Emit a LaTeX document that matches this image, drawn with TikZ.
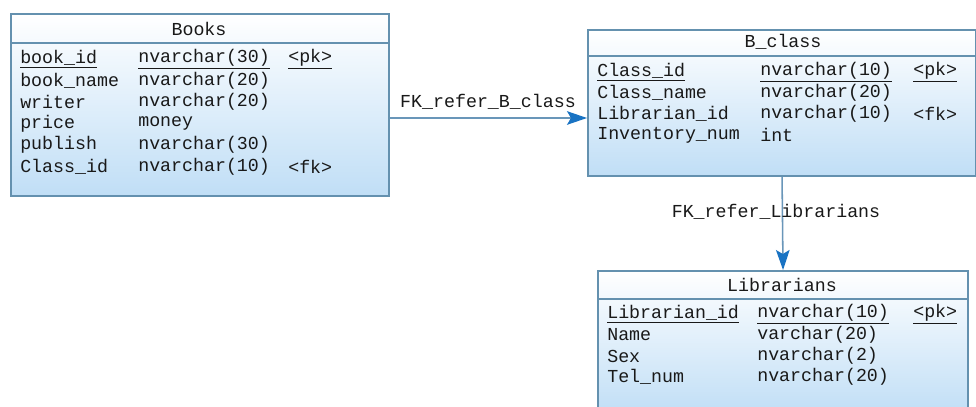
\documentclass[tikz,border=0pt]{standalone}
\usepackage{fontspec}
\setmonofont{Liberation Mono}
\usetikzlibrary{arrows.meta, positioning}

\definecolor{tblborder}{RGB}{100,145,175}
\definecolor{tblfill}{RGB}{192,222,246}
\definecolor{fkline}{RGB}{105,150,185}
\definecolor{fktip}{RGB}{25,115,195}

\tikzset{
    tablebox/.style={draw=tblborder, line width=1.4pt, top color=white, bottom color=tblfill,
        anchor=north west, inner sep=0pt},
    field/.style={anchor=west, inner sep=0pt, text=black!90,
        font=\ttfamily\fontsize{13}{15}\selectfont},
    title/.style={inner sep=0pt, text=black!90, font=\ttfamily\fontsize{13}{15}\selectfont},
    fk/.style={draw=fkline, line width=1.1pt,
        -{Stealth[length=5mm, width=3.4mm, inset=1mm, fill=fktip, color=fktip]}}
}

\begin{document}
\begin{tikzpicture}[x=0.025cm, y=-0.025cm]
    \useasboundingbox[fill=white] (0,0) rectangle (976,407);

    % Books table
    \node[tablebox, minimum width=9.45cm, minimum height=4.55cm] (books) at (10,13) {};
    \draw[tblborder, line width=1.2pt] (books.west |- 0,43) -- (books.east |- 0,43);  % header line
    \node[title] (booksTitle) at (199,29) {Books};
    \node[field] (bk1a) at (20,59)  {\underline{book\_id}};
    \node[field] (bk1b) at (138,59) {\underline{nvarchar(30)}};
    \node[field] (bk1c) at (288,59) {\underline{<pk>}};
    \foreach \fname/\ftype [count=\i from 2] in {book\_name/nvarchar(20), writer/nvarchar(20),
            price/money, publish/nvarchar(30), Class\_id/nvarchar(10)} {
        \node[field] (bk\i a) at (20,37.5+21.5*\i)  {\fname};
        \node[field] (bk\i b) at (138,37.5+21.5*\i) {\ftype};
    }
    \node[field] (bk6c) at (288,166.5) {<fk>};

    % B_class table
    \node[tablebox, minimum width=9.7cm, minimum height=3.65cm] (bclass) at (587,29) {};
    \draw[tblborder, line width=1.2pt] (bclass.west |- 0,56) -- (bclass.east |- 0,56);  % header line
    \node[title] (bclassTitle) at (783,42) {B\_class};
    \node[field] (bc1a) at (597,72) {\underline{Class\_id}};
    \node[field] (bc1b) at (760,72) {\underline{nvarchar(10)}};
    \node[field] (bc1c) at (913,72) {\underline{<pk>}};
    \foreach \fname/\ftype [count=\i from 2] in {Class\_name/nvarchar(20),
            Librarian\_id/nvarchar(10), Inventory\_num/int} {
        \node[field] (bc\i a) at (597,51+21*\i) {\fname};
        \node[field] (bc\i b) at (760,51+21*\i) {\ftype};
    }
    \node[field] (bc3c) at (913,114) {<fk>};

    % Librarians table
    \node[tablebox, minimum width=9.25cm, minimum height=3.6cm] (librarians) at (597,270) {};
    \draw[tblborder, line width=1.2pt] (librarians.west |- 0,299) -- (librarians.east |- 0,299);  % header line
    \node[title] (librariansTitle) at (782,285) {Librarians};
    \node[field] (lb1a) at (607,314) {\underline{Librarian\_id}};
    \node[field] (lb1b) at (757,314) {\underline{nvarchar(10)}};
    \node[field] (lb1c) at (913,314) {\underline{<pk>}};
    \foreach \fname/\ftype [count=\i from 2] in {Name/varchar(20), Sex/nvarchar(2),
            Tel\_num/nvarchar(20)} {
        \node[field] (lb\i a) at (607,293+21*\i) {\fname};
        \node[field] (lb\i b) at (757,293+21*\i) {\ftype};
    }

    % References
    \coordinate (fk1) at (488,118);
    \draw[fk] (books.east |- fk1) -- (bclass.west |- fk1);
    \node[title] (fk1label) at (488,102) {FK\_refer\_B\_class};
    \draw[fk] (bclass.south) -- (librarians.north);
    \node[title] (fk2label) at (776,212) {FK\_refer\_Librarians};
\end{tikzpicture}
\end{document}
